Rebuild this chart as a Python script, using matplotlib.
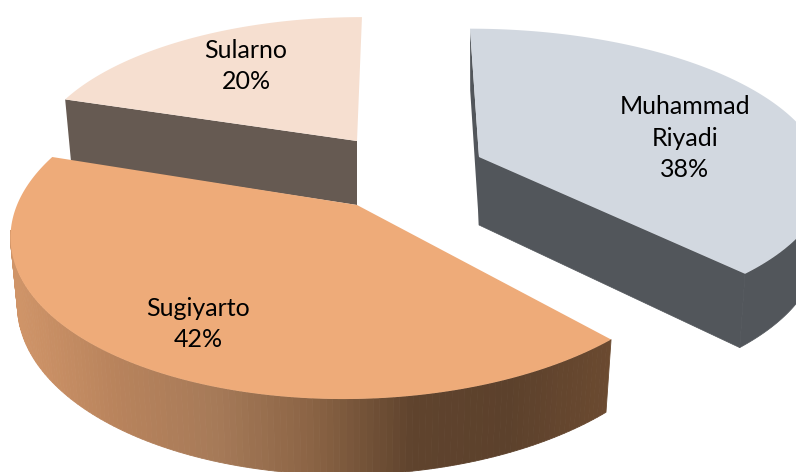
import numpy as np
import matplotlib
matplotlib.use("Agg")
import matplotlib.pyplot as plt
from matplotlib.colors import LinearSegmentedColormap
from matplotlib.patches import Polygon

names = ["Muhammad\nRiyadi", "Sugiyarto", "Sularno"]
shares = [38, 42, 20]

# how each slice sits on the page
apex = [(479, 157), (357, 205), (357, 141)]
radius_x = [341, 340, 321]
radius_y = [145, 163, 140]
shear = [0.07, -0.07, -0.04]
persp = [0.13, 0.16, 0.13]
depth = [68, 66, 64]
top_col = ["#D2D8E0", "#EEAB79", "#F6DFD0"]
side_col = ["#52565B", "#6B4A30", "#665A52"]
label_pos = [(685, 138), (198, 324), (246, 66)]

edges = np.cumsum([0] + shares) / sum(shares) * 360


def top_pts(i, theta):
    t = np.radians(theta)
    w = 1 + persp[i] * np.cos(t)
    dy = -radius_y[i] * np.cos(t) / w
    dx = radius_x[i] * np.sin(t) / w + shear[i] * dy
    return np.column_stack([apex[i][0] + dx, apex[i][1] + dy])


def bottom_pts(i, pts):
    x = apex[i][0] + (pts[:, 0] - apex[i][0]) * 0.98
    y = pts[:, 1] + depth[i] + 0.05 * (pts[:, 1] - apex[i][1])
    return np.column_stack([x, y])


fig = plt.figure(figsize=(7.96, 4.72), dpi=100)
ax = fig.add_axes([0, 0, 1, 1])
ax.set_xlim(0, 796)
ax.set_ylim(472, 0)
ax.axis("off")

orange_side = LinearSegmentedColormap.from_list(
    "side", ["#CF9468", "#B8835C", "#A67A58", "#8A6344", "#5F432D", "#5C412C", "#6B4A30"]
)

# back to front
for i in [2, 0, 1]:
    a, b = edges[i], edges[i + 1]
    theta = np.linspace(a, b, 160)
    rim = top_pts(i, theta)
    low = bottom_pts(i, rim)
    ap = np.array([apex[i]], dtype=float)
    ap_low = bottom_pts(i, ap)

    if i == 1:
        # round outer wall with the shading running left to right
        keep = theta <= 262
        r, l = rim[keep], low[keep]
        for k in range(len(r) - 1):
            mid = (r[k, 0] + r[k + 1, 0]) / 2
            c = orange_side((mid - 15) / (612 - 15))
            ax.add_patch(Polygon([r[k], r[k + 1], l[k + 1], l[k]], fc=c, ec=c, lw=0.6))
    elif i == 0:
        ax.add_patch(Polygon(np.vstack([rim[-1], ap, ap_low, low[-1]]), fc=side_col[i], ec=side_col[i], lw=0.5))
        ax.add_patch(Polygon(np.vstack([rim[0], ap, ap_low, low[0]]), fc=side_col[i], ec="none"))
        keep = theta >= 90
        ax.add_patch(Polygon(np.vstack([rim[keep], low[keep][::-1]]), fc=side_col[i], ec=side_col[i], lw=0.5))
    else:
        ax.add_patch(Polygon(np.vstack([rim[0], ap, ap_low, low[0]]), fc=side_col[i], ec="none"))

    ax.add_patch(Polygon(np.vstack([ap, rim]), fc=top_col[i], ec="none"))

for i in range(3):
    ax.text(label_pos[i][0], label_pos[i][1], "%s\n%d%%" % (names[i], shares[i]),
            ha="center", va="center", fontsize=18, family="Lato", color="black",
            linespacing=1.43)

fig.savefig("out.png", dpi=100)
